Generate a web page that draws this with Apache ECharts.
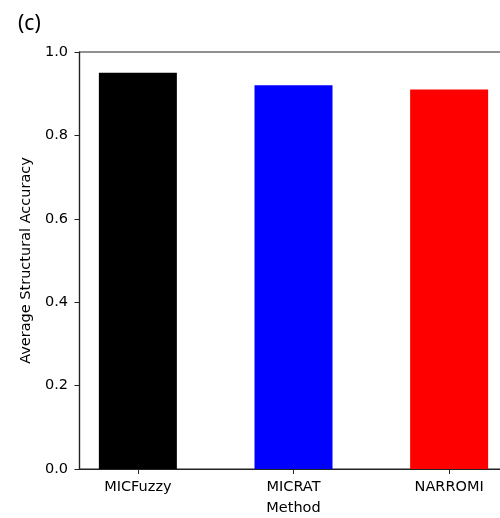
<!DOCTYPE html>
<html>
<head>
<meta charset="utf-8">
<script src="https://cdn.jsdelivr.net/npm/echarts@6/dist/echarts.min.js"></script>
<style>
html,body{margin:0;padding:0;background:#fff;overflow:hidden;}
#c{width:500px;height:518px;}
</style>
</head>
<body>
<div id="c"></div>
<script>
const categories = ['MICFuzzy', 'MICRAT', 'NARROMI'];
const values = [0.95, 0.92, 0.91];
const colors = ['#000000', '#0000ff', '#ff0000'];
const yTicks = [0, 0.2, 0.4, 0.6, 0.8, 1.0];

const FONT = 'DejaVu Sans';
const FS = 14.5;
const chart = echarts.init(document.getElementById('c'), null, {renderer: 'canvas'});
const positions = categories.map((_, i) => i);

chart.setOption({
  animation: false,
  backgroundColor: '#fff',
  title: {
    text: '(c)', left: 13, top: 9,
    textStyle: {fontFamily: 'Noto Sans', fontWeight: 'normal', fontSize: 21, color: '#000'}
  },
  grid: {
    left: 79.5, top: 52, width: 428, height: 417,
    outerBoundsMode: 'none', containLabel: false,
    show: true, borderColor: '#222', borderWidth: 1.2, backgroundColor: 'transparent'
  },
  xAxis: {
    type: 'value', min: -0.375, max: 2.375,
    name: 'Method', nameLocation: 'middle', nameGap: 32,
    nameTextStyle: {fontFamily: FONT, fontSize: FS, color: '#000'},
    splitLine: {show: false},
    axisLine: {show: true, onZero: false, lineStyle: {color: '#222', width: 1.2}},
    axisTick: {show: true, customValues: positions, length: 5, lineStyle: {color: '#222'}},
    axisLabel: {
      customValues: positions, margin: 10.5,
      fontFamily: FONT, fontSize: FS, color: '#000',
      formatter: v => categories[Math.round(v)] || ''
    }
  },
  yAxis: {
    type: 'value', min: 0, max: 1, interval: 0.2,
    name: 'Average Structural Accuracy', nameLocation: 'middle', nameGap: 39,
    nameTextStyle: {fontFamily: FONT, fontSize: FS, color: '#000'},
    splitLine: {show: false},
    axisLine: {show: true, onZero: false, lineStyle: {color: '#222', width: 1.2}},
    axisTick: {show: true, length: 5, lineStyle: {color: '#222'}},
    axisLabel: {
      margin: 11.5, fontFamily: FONT, fontSize: FS, color: '#000',
      formatter: v => v.toFixed(1)
    }
  },
  series: [{
    type: 'bar',
    barWidth: 78,
    data: values.map((v, i) => ({value: [i, v], itemStyle: {color: colors[i]}}))
  }]
});
</script>
</body>
</html>
